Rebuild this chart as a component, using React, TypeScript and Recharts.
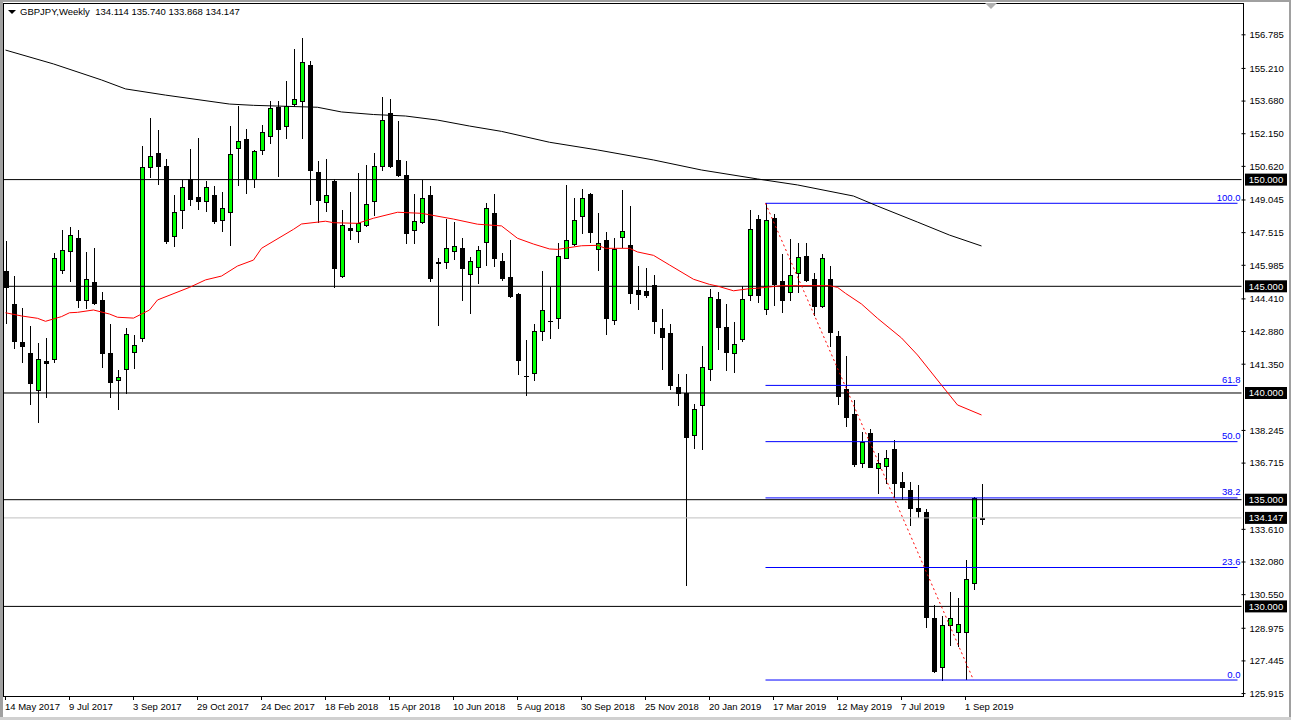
import { Bar, ComposedChart, Line, ReferenceLine, XAxis, YAxis } from "recharts";

const FONT = '"Liberation Sans", Arial, sans-serif';

// weekly GBPJPY candles, first bar = week of 14 May 2017
const open = [
  145.72, 144.17, 142.39, 141.87, 140.13, 141.49, 141.58, 145.75, 146.64, 147.25,
  144.34, 145.2, 144.36, 141.87, 140.59, 141.11, 141.91, 142.56, 150.58, 151.25,
  150.64, 147.34, 148.56, 150.01, 149.18, 148.98, 149.26, 148.09, 148.47, 151.47,
  151.9, 150.04, 151.37, 152.06, 153.42, 152.5, 153.56, 153.67, 155.37, 150.34,
  148.96, 149.93, 145.5, 147.72, 147.58, 147.89, 148.98, 150.65, 153.12, 150.9,
  150.2, 147.62, 148.03, 149.26, 146.12, 146.12, 146.64, 146.78, 145.56, 145.9,
  147.06, 148.42, 146.19, 145.42, 144.64, 140.81, 140.92, 142.89, 143.39, 143.5,
  146.34, 146.97, 148.28, 149.33, 146.73, 147.17, 143.42, 147.32, 146.94, 144.83,
  144.78, 145.05, 143.05, 142.8, 140.28, 139.99, 138.02, 139.42, 141.14, 144.39,
  143.09, 141.89, 142.52, 144.57, 148.15, 143.92, 148.19, 145.25, 144.72, 145.61,
  146.41, 145.34, 144.09, 145.34, 142.67, 140.19, 139.02, 136.71, 138.11, 136.47,
  136.57, 137.36, 135.83, 135.45, 134.61, 134.42, 129.46, 127.15, 129.11, 128.79,
  128.79, 131.08, 134.114,
];
const high = [
  147.14, 145.48, 143.98, 143.14, 142.33, 142.58, 146.57, 147.64, 147.79, 147.64,
  146.61, 146.79, 144.73, 143.23, 141.08, 143.03, 142.72, 151.57, 152.89, 152.32,
  150.95, 149.28, 149.98, 151.43, 151.95, 149.93, 149.7, 149.42, 152.51, 153.45,
  152.35, 151.39, 152.56, 153.68, 153.68, 154.62, 156.12, 156.62, 155.56, 150.87,
  150.96, 150.01, 148.58, 149.43, 150.3, 150.68, 151.23, 153.88, 153.78, 152.75,
  150.87, 149.31, 149.98, 149.71, 146.31, 148.15, 148.03, 147.26, 146.36, 146.89,
  148.89, 149.33, 146.55, 147.17, 144.7, 142.48, 143.23, 145.72, 144.98, 147.02,
  149.75, 149.12, 149.56, 149.36, 148.42, 147.56, 147.25, 149.51, 148.76, 145.95,
  145.86, 145.53, 143.94, 143.23, 140.89, 140.89, 139.48, 142.2, 144.86, 144.72,
  144.17, 143.31, 145.01, 148.56, 148.34, 148.89, 148.39, 146.51, 147.22, 147.03,
  147.03, 145.62, 146.51, 145.95, 142.91, 141.75, 139.67, 138.19, 138.3, 137.17,
  137.33, 137.8, 136.31, 135.83, 135.69, 134.55, 130.07, 129.55, 130.67, 130.39,
  132.17, 135.14, 135.74,
];
const low = [
  143.29, 142.12, 141.47, 139.5, 138.66, 139.83, 141.47, 145.64, 145.26, 144.04,
  144.0, 144.17, 141.23, 139.8, 139.27, 139.99, 141.19, 142.45, 150.14, 149.78,
  147.04, 146.9, 147.75, 148.81, 148.64, 148.54, 147.95, 147.61, 146.95, 149.76,
  149.39, 149.67, 151.19, 151.73, 150.18, 151.94, 153.45, 151.96, 148.87, 148.0,
  148.54, 144.98, 145.45, 147.22, 147.06, 147.83, 148.34, 150.45, 150.58, 150.17,
  147.04, 147.04, 147.95, 145.26, 143.19, 145.84, 146.29, 144.36, 143.76, 145.17,
  146.0, 145.97, 145.3, 144.48, 140.9, 139.91, 140.61, 142.48, 142.59, 143.06,
  146.31, 146.94, 147.51, 147.09, 145.76, 142.75, 143.22, 146.86, 144.23, 143.95,
  144.51, 142.83, 141.14, 140.2, 139.45, 131.0, 137.44, 137.36, 140.62, 142.08,
  141.09, 141.0, 142.45, 144.38, 144.28, 143.7, 144.14, 143.81, 144.36, 144.75,
  145.25, 143.66, 144.04, 142.22, 139.48, 138.47, 136.59, 136.55, 136.52, 135.33,
  135.8, 135.14, 135.03, 133.83, 134.2, 129.05, 126.94, 126.55, 128.21, 128.16,
  126.58, 130.8, 133.868,
];
const close = [
  144.97, 142.45, 142.22, 140.48, 141.58, 141.42, 146.31, 146.69, 147.4, 144.34,
  145.33, 144.23, 141.89, 140.53, 140.74, 142.75, 142.25, 150.58, 151.11, 150.65,
  147.14, 148.47, 149.64, 149.1, 149.01, 149.64, 148.07, 148.67, 151.19, 151.79,
  150.01, 151.34, 152.22, 153.34, 152.39, 153.46, 153.76, 155.5, 150.44, 149.06,
  149.28, 145.87, 147.86, 147.65, 147.95, 148.86, 150.62, 152.78, 150.64, 150.22,
  147.51, 148.05, 149.12, 145.4, 146.11, 146.78, 146.89, 145.84, 146.17, 146.69,
  148.66, 146.31, 145.4, 144.56, 141.56, 140.8, 142.89, 143.88, 143.36, 146.41,
  147.16, 148.09, 149.12, 147.53, 147.01, 143.5, 146.75, 147.59, 144.7, 144.65,
  144.61, 143.39, 142.61, 140.39, 140.0, 137.95, 139.24, 141.2, 144.48, 143.11,
  141.94, 142.28, 144.39, 147.67, 144.61, 148.09, 145.12, 144.37, 145.54, 146.36,
  145.3, 144.09, 146.31, 142.87, 139.87, 138.89, 136.67, 137.7, 136.55, 136.71,
  136.94, 135.8, 135.61, 134.63, 134.48, 129.52, 126.99, 129.11, 129.44, 129.16,
  131.27, 135.07, 134.147,
];

// moving averages: [bar index, value]
const slowMa: [number, number][] = [
  [0, 156.07], [6, 155.42], [12, 154.67], [15, 154.25], [20, 153.96], [28, 153.54],
  [31, 153.48], [39, 153.39], [42, 153.17], [46, 153.05], [50, 152.98], [54, 152.79],
  [58, 152.51], [62, 152.26], [68, 151.75], [74, 151.39], [81, 150.92], [87, 150.45],
  [94, 150.03], [99, 149.75], [106, 149.23], [109, 148.76], [114, 148.01], [118, 147.4],
  [122, 146.89],
];
const fastMa: [number, number][] = [
  [0, 143.76], [2, 143.61], [4, 143.5], [5, 143.36], [7, 143.58], [8, 143.76], [9, 143.78],
  [11, 143.89], [13, 143.7], [14, 143.55], [16, 143.51], [18, 143.89], [19, 144.36],
  [23, 144.95], [25, 145.3], [27, 145.48], [29, 145.95], [31, 146.23], [32, 146.78],
  [36, 147.67], [37, 147.92], [40, 148.05], [41, 147.98], [44, 147.95], [46, 148.19],
  [49, 148.47], [52, 148.42], [56, 148.15], [59, 147.91], [62, 147.83], [64, 147.25],
  [66, 146.98], [68, 146.75], [69, 146.73], [72, 146.9], [74, 146.92], [75, 146.78],
  [78, 146.78], [79, 146.61], [81, 146.45], [83, 146.0], [86, 145.33], [88, 145.09],
  [89, 145.01], [91, 144.79], [93, 144.89], [94, 144.91], [97, 145.03], [99, 145.03],
  [103, 145.03], [104, 144.95], [105, 144.67], [107, 144.17], [109, 143.5], [112, 142.58],
  [114, 141.78], [117, 140.37], [119, 139.44], [122, 138.97],
];

const dateLabels = [
  "14 May 2017", "9 Jul 2017", "3 Sep 2017", "29 Oct 2017", "24 Dec 2017", "18 Feb 2018",
  "15 Apr 2018", "10 Jun 2018", "5 Aug 2018", "30 Sep 2018", "25 Nov 2018", "20 Jan 2019",
  "17 Mar 2019", "12 May 2019", "7 Jul 2019", "1 Sep 2019",
];
const priceTicks = [
  156.785, 155.21, 153.68, 152.15, 150.62, 149.045, 147.515, 145.985, 144.41, 142.88,
  141.35, 138.245, 136.715, 133.61, 132.08, 130.55, 128.975, 127.445, 125.915,
];
const levels = [150, 145, 140, 135, 130];
const lastPrice = 134.147;

const fibHigh = 148.89;
const fibLow = 126.55;
const fibStart = 95;
const fibEnd = 121;
const fibLevels = [100, 61.8, 50, 38.2, 23.6, 0];

const SLOTS = 155;
const slowMap = new Map(slowMa);
const fastMap = new Map(fastMa);
const data = Array.from({ length: SLOTS }, (_, i) => {
  const has = i < open.length;
  return {
    i,
    range: has ? [low[i], high[i]] : null,
    o: has ? open[i] : null,
    h: has ? high[i] : null,
    l: has ? low[i] : null,
    c: has ? close[i] : null,
    slow: slowMap.has(i) ? slowMap.get(i) : null,
    fast: fastMap.has(i) ? fastMap.get(i) : null,
  };
});

function Candle(props: any) {
  const { x, y, width, height, payload } = props;
  if (!payload || payload.o == null || height == null) return null;
  const { o, h, l, c } = payload;
  const top = Math.min(y, y + height);
  const bot = Math.max(y, y + height);
  const span = h - l || 1;
  const py = (v: number) => top + ((h - v) / span) * (bot - top);
  const cx = Math.floor(x + width / 2) + 0.5;
  const bx = Math.round(x) + 0.5;
  const bw = Math.round(width) - 1;
  const yo = Math.round(py(o));
  const yc = Math.round(py(c));
  const bodyTop = Math.min(yo, yc);
  const bodyH = Math.abs(yo - yc);
  const up = c >= o;
  return (
    <g>
      <line x1={cx} x2={cx} y1={Math.round(top)} y2={Math.round(bot) + 1} stroke="#000" strokeWidth={1} />
      {bodyH < 1 ? (
        <line x1={bx - 0.5} x2={bx + bw + 0.5} y1={bodyTop + 0.5} y2={bodyTop + 0.5} stroke="#000" strokeWidth={1} />
      ) : (
        <rect x={bx} y={bodyTop + 0.5} width={bw} height={bodyH} fill={up ? "#00ff00" : "#000"} stroke="#000" strokeWidth={1} />
      )}
    </g>
  );
}

function DateTick(props: any) {
  const { x, y, payload } = props;
  const idx = payload.value as number;
  if (idx % 8 !== 0 || idx / 8 >= dateLabels.length) return null;
  const px = Math.floor(x) + 0.5;
  return (
    <g>
      <line x1={px} x2={px} y1={y} y2={y + 4} stroke="#000" />
      <text x={x - 0.5} y={y + 13.5} fill="#000" fontSize={9.5} fontFamily={FONT} textAnchor="start">
        {dateLabels[idx / 8]}
      </text>
    </g>
  );
}

function LevelTag({ viewBox, text }: any) {
  const left = viewBox.x + viewBox.width + 3.5;
  const yy = viewBox.y;
  return (
    <g>
      <rect x={left} y={yy - 6} width={42} height={12} fill="#000" />
      <text x={left + 21} y={yy} dy="0.36em" textAnchor="middle" fill="#fff" fontSize={9.5} fontFamily={FONT}>
        {text}
      </text>
    </g>
  );
}

function FibTag({ viewBox, text }: any) {
  return (
    <text
      x={viewBox.x + viewBox.width + 3}
      y={viewBox.y - 2.5}
      textAnchor="end"
      fill="#0000ff"
      fontSize={9.5}
      fontFamily={FONT}
    >
      {text}
    </text>
  );
}

export default function App() {
  return (
    <div style={{ position: "absolute", left: 0, top: 0, width: 1291, height: 720, background: "#fff", fontFamily: FONT }}>
      <ComposedChart width={1291} height={720} data={data} margin={{ top: 4, right: 0, bottom: 0, left: 1.5 }}>
        <XAxis
          dataKey="i"
          type="category"
          interval={7}
          tickSize={0}
          tickMargin={0}
          tickLine={false}
          axisLine={false}
          height={24}
          tick={<DateTick />}
        />
        <YAxis
          orientation="right"
          type="number"
          domain={[125.801, 158.229]}
          allowDataOverflow
          ticks={priceTicks}
          interval={0}
          width={49.5}
          tickSize={4}
          tickMargin={4}
          axisLine={false}
          tickLine={{ stroke: "#000" }}
          tick={{ fill: "#000", fontSize: 9.5, fontFamily: FONT }}
          tickFormatter={(v: number) => v.toFixed(3)}
        />
        <ReferenceLine
          y={lastPrice}
          stroke="#c0c0c0"
          strokeWidth={1}
          label={{ content: (p: any) => <LevelTag viewBox={p.viewBox} text={lastPrice.toFixed(3)} /> }}
        />
        {levels.map((lv) => (
          <ReferenceLine
            key={lv}
            y={lv}
            stroke="#000"
            strokeWidth={1}
            label={{ content: (p: any) => <LevelTag viewBox={p.viewBox} text={lv.toFixed(3)} /> }}
          />
        ))}
        {fibLevels.map((f) => {
          const price = fibLow + ((fibHigh - fibLow) * f) / 100;
          return (
            <ReferenceLine
              key={f}
              segment={[
                { x: fibStart, y: price },
                { x: SLOTS - 1, y: price },
              ]}
              stroke="#0000ff"
              strokeWidth={1}
              label={{ content: (p: any) => <FibTag viewBox={p.viewBox} text={f.toFixed(1)} /> }}
            />
          );
        })}
        <ReferenceLine
          segment={[
            { x: fibStart, y: fibHigh },
            { x: fibEnd, y: fibLow },
          ]}
          stroke="#ff0000"
          strokeWidth={1}
          strokeDasharray="2 3"
        />
        <Bar dataKey="range" barSize={5} shape={<Candle />} isAnimationActive={false} />
        <Line
          type="linear"
          dataKey="slow"
          stroke="#000"
          strokeWidth={1}
          dot={false}
          activeDot={false}
          connectNulls
          isAnimationActive={false}
        />
        <Line
          type="linear"
          dataKey="fast"
          stroke="#ff0000"
          strokeWidth={1}
          dot={false}
          activeDot={false}
          connectNulls
          isAnimationActive={false}
        />
      </ComposedChart>

      {/* window frame and header */}
      <div style={{ position: "absolute", left: 0, top: 0, width: 3, height: 720, background: "#a0a0a0" }} />
      <div style={{ position: "absolute", left: 0, top: 0, width: 1291, height: 2, background: "#a0a0a0" }} />
      <div style={{ position: "absolute", left: 1289, top: 0, width: 2, height: 720, background: "#a0a0a0" }} />
      <div style={{ position: "absolute", left: 0, top: 717, width: 1291, height: 3, background: "#d0d0d0" }} />
      <div
        style={{
          position: "absolute",
          left: 3,
          top: 3,
          width: 1241,
          height: 694,
          border: "1px solid #000",
          boxSizing: "border-box",
          pointerEvents: "none",
        }}
      />
      <div
        style={{
          position: "absolute",
          left: 8,
          top: 10,
          width: 0,
          height: 0,
          borderLeft: "4px solid transparent",
          borderRight: "4px solid transparent",
          borderTop: "4px solid #000",
        }}
      />
      <div style={{ position: "absolute", left: 20, top: 6, fontSize: 9.5, lineHeight: "12px", color: "#000", whiteSpace: "pre" }}>
        {"GBPJPY,Weekly  134.114 135.740 133.868 134.147"}
      </div>
      <div
        style={{
          position: "absolute",
          left: 985,
          top: 3,
          width: 0,
          height: 0,
          borderLeft: "6px solid transparent",
          borderRight: "6px solid transparent",
          borderTop: "6px solid #b0b0b0",
        }}
      />
    </div>
  );
}
